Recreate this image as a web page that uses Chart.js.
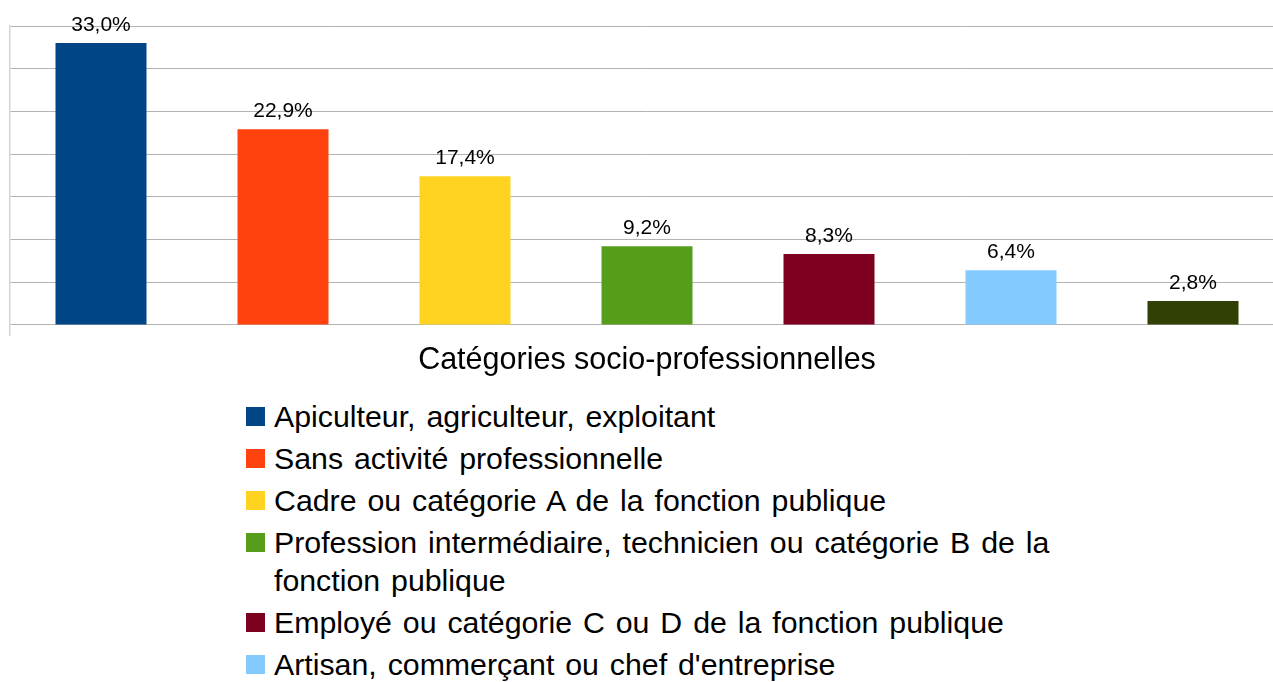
<!DOCTYPE html>
<html>
<head>
<meta charset="utf-8">
<script src="https://cdn.jsdelivr.net/npm/chart.js@4/dist/chart.umd.min.js"></script>
<style>
  html, body { margin: 0; padding: 0; background: #fff; overflow: hidden; }
  body { width: 1273px; height: 682px; position: relative; font-family: "Liberation Sans", Arial, sans-serif; }
  #wrap { position: absolute; left: 0; top: 0; width: 1273px; height: 385px; overflow: hidden; }
  #legend { position: absolute; left: 246px; top: 398px; margin: 0; padding: 0; list-style: none; }
  #legend li { position: relative; padding-left: 28px; margin-bottom: 4px;
               font-size: 30.3px; word-spacing: 2.5px; line-height: 38px; color: #000; max-width: 820px; }
  #legend .sw { position: absolute; left: 0; top: 9px; width: 19px; height: 19px; }
</style>
</head>
<body>
<div id="wrap"><canvas id="chart" width="1294" height="380"></canvas></div>
<ul id="legend"></ul>

<script>
/* ── data ── */
const categories = [
  'Apiculteur, agriculteur, exploitant',
  'Sans activité professionnelle',
  'Cadre ou catégorie A de la fonction publique',
  'Profession intermédiaire, technicien ou catégorie B de la fonction publique',
  'Employé ou catégorie C ou D de la fonction publique',
  'Artisan, commerçant ou chef d\'entreprise',
  'Ouvrier'
];
const shares = [33.0, 22.9, 17.4, 9.2, 8.3, 6.4, 2.8];
const colors = ['#004586', '#ff420e', '#ffd320', '#579d1c', '#7e0021', '#83caff', '#314004'];
const axisTitle = 'Catégories socio-professionnelles';

const fmtPct = v => v.toFixed(1).replace('.', ',') + '%';

/* ── value labels above bars ── */
const valueLabels = {
  id: 'valueLabels',
  afterDatasetsDraw(chart) {
    const { ctx } = chart;
    const meta = chart.getDatasetMeta(0);
    ctx.save();
    ctx.font = '21px "Liberation Sans", Arial, sans-serif';
    ctx.fillStyle = '#000';
    ctx.textAlign = 'center';
    ctx.textBaseline = 'alphabetic';
    meta.data.forEach((bar, i) => {
      ctx.fillText(fmtPct(shares[i]), bar.x, bar.y - 12);
    });
    ctx.restore();
  }
};

new Chart(document.getElementById('chart'), {
  type: 'bar',
  data: {
    labels: categories,
    datasets: [{
      data: shares,
      backgroundColor: colors,
      borderWidth: 0,
      categoryPercentage: 1,
      barPercentage: 0.5,
    }]
  },
  options: {
    responsive: false,
    animation: false,
    layout: { padding: { left: 10, right: 10, top: 26, bottom: 1 } },
    plugins: { legend: { display: false }, tooltip: { enabled: false } },
    scales: {
      x: {
        offset: true,
        ticks: { display: false },
        grid: {
          offset: true,
          drawOnChartArea: false,
          tickLength: 11,
          color: c => c.index === 0 ? '#d4d4d4' : 'rgba(0,0,0,0)',
          lineWidth: 1.5,
        },
        border: { display: false },
        title: {
          display: true, text: axisTitle, color: '#000',
          font: { family: '"Liberation Sans", Arial, sans-serif', size: 30.5 },
          padding: { top: 6.5, bottom: 0 }
        }
      },
      y: {
        min: 0, max: 35,
        ticks: { display: false, stepSize: 5 },
        grid: { color: '#b3b3b3', drawTicks: false },
        border: { display: true, color: '#d4d4d4', width: 1.5 }
      }
    }
  },
  plugins: [valueLabels]
});

/* ── html legend ── */
const legend = document.getElementById('legend');
categories.forEach((name, i) => {
  const li = document.createElement('li');
  li.innerHTML = `<span class="sw" style="background:${colors[i]}"></span>${name}`;
  legend.appendChild(li);
});
</script>
</body>
</html>
